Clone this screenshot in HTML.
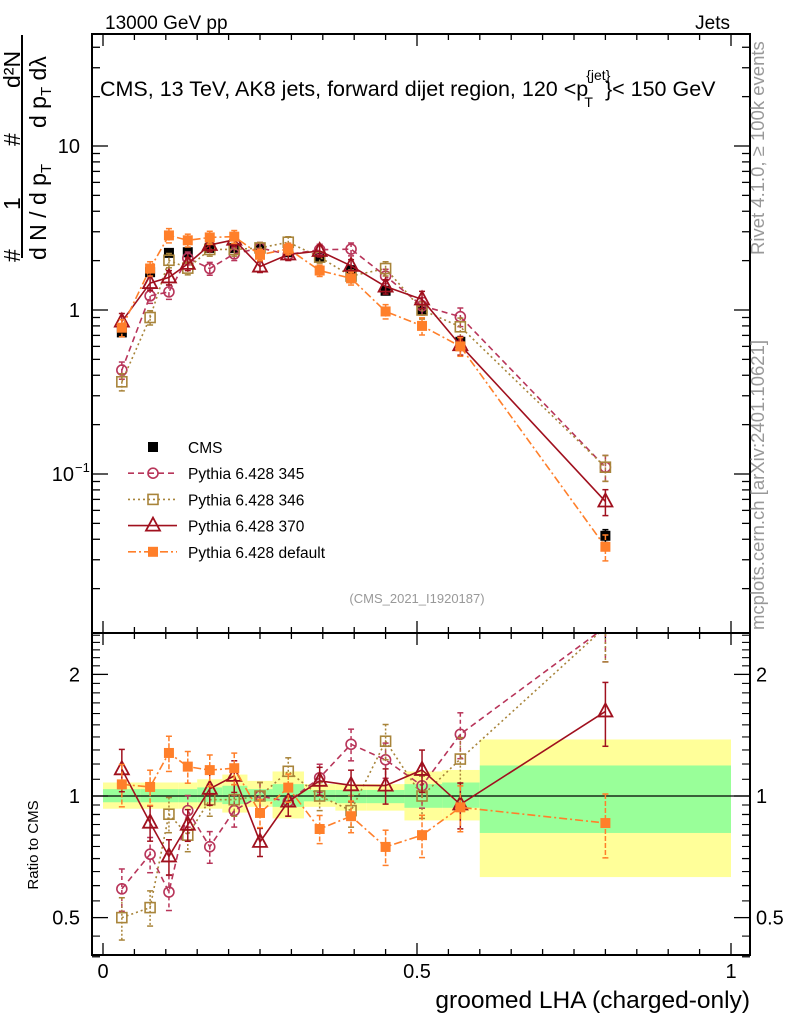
<!DOCTYPE html>
<html><head><meta charset="utf-8"><style>
html,body{margin:0;padding:0;background:#fff;}
svg{display:block;font-family:"Liberation Sans",sans-serif;}
</style></head><body>
<svg id="plot" width="786" height="1024" viewBox="0 0 786 1024" xmlns="http://www.w3.org/2000/svg">
<defs>
<clipPath id="cm"><rect x="92" y="34" width="658" height="599"/></clipPath>
<clipPath id="cr"><rect x="92" y="633" width="658" height="322"/></clipPath>
</defs>
<g id="bands" clip-path="url(#cr)"></g>
<g id="grid"></g>
<g id="series-main" clip-path="url(#cm)"></g>
<g id="series-ratio" clip-path="url(#cr)"></g>
<rect x="92" y="34" width="658" height="599" fill="none" stroke="#000" stroke-width="2"/>
<rect x="92" y="633" width="658" height="322" fill="none" stroke="#000" stroke-width="2"/>
<text x="105" y="29" font-size="19">13000 GeV pp</text>
<text x="730" y="29" font-size="19" text-anchor="end">Jets</text>
<text x="100" y="96" font-size="21.5">CMS, 13 TeV, AK8 jets, forward dijet region, 120 &lt;p<tspan font-size="14" dy="-16" dx="-2">{jet}</tspan><tspan font-size="14" dx="-26" dy="27">T</tspan><tspan dy="-11" dx="12">}&lt; 150 GeV</tspan></text>
<text x="417" y="603" font-size="13" fill="#999" text-anchor="middle">(CMS_2021_I1920187)</text>
<text transform="translate(764,255) rotate(-90)" font-size="18.5" fill="#999">Rivet 4.1.0, ≥ 100k events</text>
<text transform="translate(764,630) rotate(-90)" font-size="18.5" fill="#999">mcplots.cern.ch [arXiv:2401.10621]</text>
<g font-size="23">
<line x1="22" y1="35" x2="22" y2="258" stroke="#000" stroke-width="2"/>
<text transform="translate(20,262) rotate(-90)">#</text>
<text transform="translate(20,210) rotate(-90)">1</text>
<text transform="translate(20,146) rotate(-90)">#</text>
<text transform="translate(20,88) rotate(-90)">d²N</text>
<text transform="translate(46,260) rotate(-90)">d N / d p<tspan font-size="15" dy="5">T</tspan></text>
<text transform="translate(46,128) rotate(-90)">d p<tspan font-size="15" dy="5">T</tspan><tspan dy="-5"> dλ</tspan></text>
</g>
<text transform="translate(38,845) rotate(-90)" font-size="15" text-anchor="middle">Ratio to CMS</text>
<text x="750" y="1008" font-size="24.5" text-anchor="end">groomed LHA (charged-only)</text>
<g id="legend"></g>
</svg>
<script>
const binEdges=[0,0.06,0.09,0.12,0.15,0.19,0.23,0.27,0.32,0.37,0.42,0.48,0.54,0.6,1.0];
const xVals=[0.03,0.075,0.105,0.135,0.17,0.209,0.25,0.295,0.345,0.395,0.45,0.508,0.569,0.8];
const cmsVals=[0.73,1.70,2.23,2.25,2.39,2.39,2.39,2.25,2.10,1.75,1.31,1.0,0.64,0.042];
const p345Vals=[0.43,1.22,1.29,2.07,1.79,2.20,2.39,2.18,2.33,2.35,1.61,1.06,0.91,0.11];
const p346Vals=[0.365,0.90,2.01,1.80,2.34,2.34,2.39,2.59,2.10,1.61,1.79,1.0,0.79,0.11];
const p370Vals=[0.85,1.46,1.58,1.91,2.49,2.68,1.84,2.18,2.29,1.86,1.39,1.16,0.61,0.068];
const pDefVals=[0.78,1.79,2.85,2.66,2.77,2.80,2.17,2.36,1.74,1.56,0.98,0.80,0.60,0.036];
const relErr=[0.12,0.10,0.10,0.09,0.09,0.09,0.08,0.08,0.08,0.09,0.10,0.12,0.13,0.18];
const bandYellowHi=[1.08,1.08,1.08,1.08,1.10,1.13,1.09,1.15,1.07,1.07,1.07,1.15,1.16,1.38];
const bandYellowLo=[0.93,0.93,0.93,0.93,0.93,0.91,0.94,0.88,0.94,0.92,0.92,0.87,0.87,0.63];
const bandGreenHi=[1.04,1.04,1.04,1.04,1.05,1.06,1.04,1.07,1.035,1.035,1.035,1.07,1.08,1.19];
const bandGreenLo=[0.965,0.965,0.965,0.965,0.965,0.955,0.97,0.94,0.97,0.96,0.96,0.935,0.935,0.81];
const xTicks=[0,0.5,1];
const xTickLabels=["0","0.5","1"];
const ratioTicks=[0.5,1,2];
const ratioTickLabels=["0.5","1","2"];

const NS="http://www.w3.org/2000/svg";
const X=v=>103+v*628;
const YM=v=>310-Math.log10(v)*164;
const YR=v=>796-Math.log10(v)*404;
function mk(parent,tag,attrs){const e=document.createElementNS(NS,tag);for(const k in attrs)e.setAttribute(k,attrs[k]);parent.appendChild(e);return e;}
const svg=document.getElementById('plot');
const grid=document.getElementById('grid');
const bands=document.getElementById('bands');
for(let i=0;i<binEdges.length-1;i++){
  const x0=X(binEdges[i]),x1=X(binEdges[i+1]);
  const y=mk(bands,'rect',{x:x0,y:YR(bandYellowHi[i]),width:x1-x0,height:YR(bandYellowLo[i])-YR(bandYellowHi[i]),fill:'#ffff99'});
  
  
  const g=mk(bands,'rect',{x:x0,y:YR(bandGreenHi[i]),width:x1-x0,height:YR(bandGreenLo[i])-YR(bandGreenHi[i]),fill:'#99ff99'});
  
  
}
mk(bands,'line',{x1:92,x2:750,y1:YR(1),y2:YR(1),stroke:'#000','stroke-width':1.3});
for(let i=0;i<=20;i++){
  const v=i*0.05,x=X(v),maj=(i%10===0);
  const L=maj?12:6;
  [[34,34+L],[633,633-L],[633,633+L],[955,955-L]].forEach(a=>mk(grid,'line',{x1:x,x2:x,y1:a[0],y2:a[1],stroke:'#000','stroke-width':1.3}));
}
xTicks.forEach((v,i)=>{const t=mk(svg,'text',{x:X(v),y:978,'font-size':20,'text-anchor':'middle'});t.textContent=xTickLabels[i];

});
for(let d=-2;d<=1;d++){for(let m=1;m<=9;m++){const v=m*Math.pow(10,d),y=YM(v);if(y<34||y>633)continue;const L=m===1?16:8;
mk(grid,'line',{x1:92,x2:92+L,y1:y,y2:y,stroke:'#000','stroke-width':1.3});mk(grid,'line',{x1:750,x2:750-L,y1:y,y2:y,stroke:'#000','stroke-width':1.3});}}
[[10,'10'],[1,'1'],[0.1,'10']].forEach((a,i)=>{const t=mk(svg,'text',{x:i==2?74:80,y:YM(a[0])+7,'font-size':20,'text-anchor':'end'});t.textContent=a[1];


if(i==2){const s=mk(svg,'text',{x:75,y:YM(0.1)-2,'font-size':13});s.textContent='−1';}});
for(let d=-1;d<=0;d++){for(let m=1;m<=9;m++){const v=m*Math.pow(10,d);if(v<0.4||v>2.6)continue;const y=YR(v);const L=(v===0.5||v===1||v===2)?16:8;
mk(grid,'line',{x1:92,x2:92+L,y1:y,y2:y,stroke:'#000','stroke-width':1.3});mk(grid,'line',{x1:750,x2:750-L,y1:y,y2:y,stroke:'#000','stroke-width':1.3});}}
[0.45,0.55,0.65,0.75,0.85,0.95,1.1,1.2,1.3,1.4,1.5,1.6,1.7,1.8,1.9,2.1,2.2,2.3,2.4,2.5].forEach(v=>{const y=YR(v);mk(grid,'line',{x1:92,x2:100,y1:y,y2:y,stroke:'#000','stroke-width':1.1});mk(grid,'line',{x1:750,x2:742,y1:y,y2:y,stroke:'#000','stroke-width':1.1});});
ratioTicks.forEach((v,i)=>{[[80,'end'],[756,'start']].forEach(p=>{const t=mk(svg,'text',{x:p[0],y:YR(v)+7,'font-size':20,'text-anchor':p[1]});t.textContent=ratioTickLabels[i];

});});

const series=[
 {name:'cms',vals:cmsVals,color:'#000',dash:null,marker:'sqfill',line:false},
 {name:'pythia-345',vals:p345Vals,color:'#b8355a',dash:'6,4',marker:'circle',line:true},
 {name:'pythia-346',vals:p346Vals,color:'#a8843a',dash:'2,3',marker:'square',line:true},
 {name:'pythia-370',vals:p370Vals,color:'#a0101e',dash:null,marker:'tri',line:true},
 {name:'pythia-default',vals:pDefVals,color:'#ff7f2a',dash:'8,3,2,3',marker:'sqfill',line:true}
];
function marker(g,type,x,y,color){
  if(type==='sqfill')return mk(g,'rect',{x:x-5,y:y-5,width:10,height:10,fill:color});
  if(type==='square')return mk(g,'rect',{x:x-5,y:y-5,width:10,height:10,fill:'none',stroke:color,'stroke-width':1.6});
  if(type==='circle')return mk(g,'circle',{cx:x,cy:y,r:5,fill:'none',stroke:color,'stroke-width':1.6});
  return mk(g,'polygon',{points:`${x},${y-8} ${x-7},${y+5} ${x+7},${y+5}`,fill:'none',stroke:color,'stroke-width':1.8});
}
const gm=document.getElementById('series-main'),gr=document.getElementById('series-ratio');
series.forEach(s=>{
  [[gm,YM,s.vals.map(v=>v)],[gr,YR,s.vals.map((v,i)=>v/cmsVals[i])]].forEach(([par,Y,vals],pi)=>{
    if(pi===1&&s.name==='cms')return;
    const g=mk(par,'g',{});
    
    
    if(s.line){const p=mk(g,'polyline',{points:vals.map((v,i)=>X(xVals[i])+','+Y(v)).join(' '),fill:'none',stroke:s.color,'stroke-width':1.6});if(s.dash)p.setAttribute('stroke-dasharray',s.dash);}
    vals.forEach((v,i)=>{const x=X(xVals[i]),e=relErr[i]*(s.name==='cms'?0.5:1);
      const y1=Y(v*(1+e)),y2=Y(v*(1-e));
      const eb=mk(g,'line',{x1:x,x2:x,y1:y1,y2:y2,stroke:s.color,'stroke-width':1.5});if(s.dash)eb.setAttribute('stroke-dasharray',s.dash==='6,4'?'4,3':s.dash==='2,3'?'2,2':'5,2');
      mk(g,'line',{x1:x-3,x2:x+3,y1:y1,y2:y1,stroke:s.color,'stroke-width':1.5});
      mk(g,'line',{x1:x-3,x2:x+3,y1:y2,y2:y2,stroke:s.color,'stroke-width':1.5});
      const m=marker(g,s.marker,x,Y(v),s.color);
      
      
    });
  });
});
const legLabels=["CMS","Pythia 6.428 345","Pythia 6.428 346","Pythia 6.428 370","Pythia 6.428 default"];
const leg=document.getElementById('legend');
series.forEach((s,i)=>{
  const y=447+i*26.2;
  const g=mk(leg,'g',{});
  
  
  if(s.line){const l=mk(g,'line',{x1:128,x2:177,y1:y,y2:y,stroke:s.color,'stroke-width':1.6});if(s.dash)l.setAttribute('stroke-dasharray',s.dash);}
  marker(g,s.marker,153,y,s.color);
  const t=mk(g,'text',{x:188,y:y+6,'font-size':15.5});t.textContent=legLabels[i];
});
</script>
</body></html>
